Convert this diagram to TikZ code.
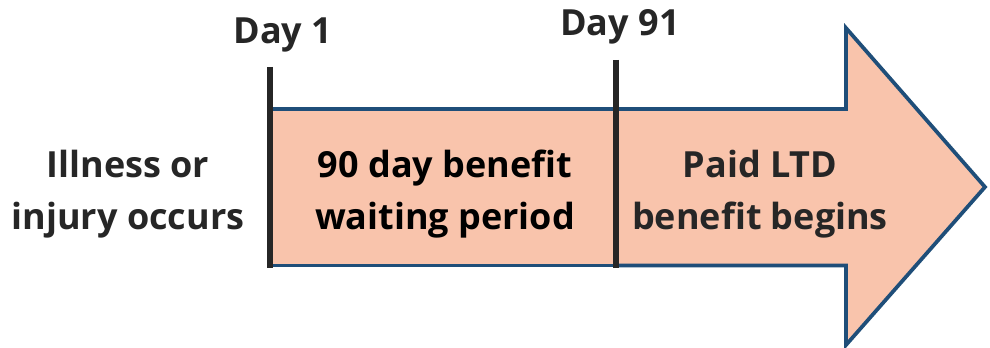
\documentclass[tikz,border=0pt]{standalone}
\usepackage{fontspec}
\setmainfont{Open Sans}
\definecolor{fillc}{HTML}{F9C4AC}
\definecolor{edgec}{HTML}{1F4E79}
\definecolor{txtc}{HTML}{262626}
\tikzset{
  shapebox/.style={fill=fillc,draw=edgec,line width=2.8pt,line join=miter},
  marker/.style={draw=txtc,line width=3.8pt},
  lbl/.style={text=txtc,font=\fontsize{27}{39}\selectfont\bfseries,align=center,inner sep=0pt}
}
\begin{document}
\begin{tikzpicture}[x=0.75pt,y=-0.75pt]
\useasboundingbox (0,0) rectangle (990,348);
\fill[white] (0,0) rectangle (990,348);
\draw[shapebox] (270,109) rectangle (616,265.5);
\draw[shapebox] (616,109) -- (846,109) -- (846,28) -- (985,187) -- (846,345) -- (846,265.5) -- (616,265.5) -- cycle;
\coordinate (a1) at (270,67);
\coordinate (a2) at (270,268);
\coordinate (b1) at (616,60);
\coordinate (b2) at (616,268);
\draw[marker] (a1) -- (a2);
\draw[marker] (b1) -- (b2);
\node[lbl] (d1) at (283,35) {Day 1};
\node[lbl] (d91) at (620,27) {Day 91};
\node[lbl] (ill) at (128,194) {Illness or\\injury occurs};
\node[lbl,text=black] (wait) at (445,194) {90 day benefit\\waiting period};
\node[lbl] (paid) at (760,194) {Paid LTD\\benefit begins};
\end{tikzpicture}
\end{document}
